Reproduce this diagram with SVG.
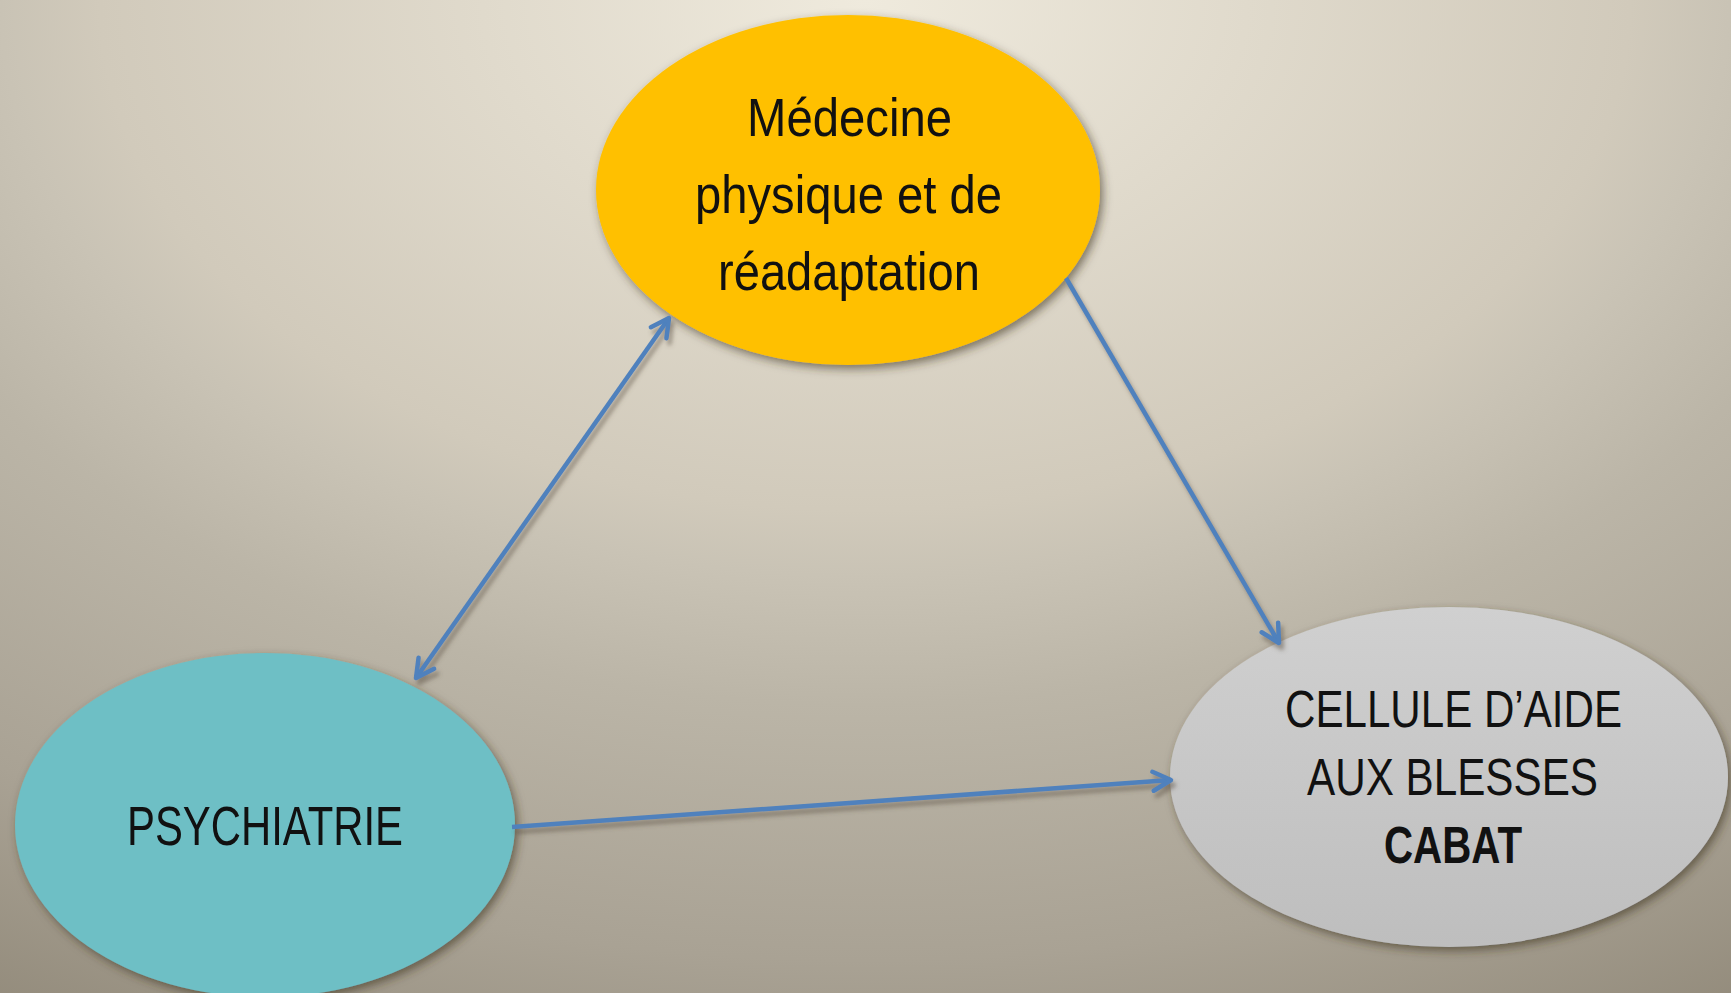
<svg xmlns="http://www.w3.org/2000/svg" width="1731" height="993" viewBox="0 0 1731 993">
  <defs>
    <radialGradient id="bg" gradientUnits="userSpaceOnUse" cx="865" cy="0" r="1200" gradientTransform="translate(865 0) scale(1.5 1) translate(-865 0)">
      <stop offset="0" stop-color="#EFEADD"/>
      <stop offset="0.425" stop-color="#D1CABB"/>
      <stop offset="0.48" stop-color="#C9C3B5"/>
      <stop offset="0.587" stop-color="#BBB5A7"/>
      <stop offset="0.8" stop-color="#A9A294"/>
      <stop offset="1" stop-color="#8F8777"/>
    </radialGradient>
    <linearGradient id="grayFill" x1="0" y1="0" x2="0" y2="1">
      <stop offset="0" stop-color="#D0D0D0"/>
      <stop offset="1" stop-color="#BEBEBE"/>
    </linearGradient>
    <filter id="nodeShadow" x="-20%" y="-20%" width="140%" height="140%">
      <feDropShadow dx="3" dy="4" stdDeviation="5" flood-color="#3A3020" flood-opacity="0.6"/>
    </filter>
    <filter id="lineShadow" x="-20%" y="-20%" width="140%" height="140%">
      <feDropShadow dx="3" dy="5" stdDeviation="2" flood-color="#5A5040" flood-opacity="0.5"/>
    </filter>
    <marker id="ah" markerUnits="userSpaceOnUse" orient="auto-start-reverse" refX="0" refY="0" markerWidth="40" markerHeight="40" viewBox="-25 -20 40 40" overflow="visible">
      <path d="M-18,-9.5 L0,0 L-18,9.5" fill="none" stroke="#4F81BD" stroke-width="4.5" stroke-linecap="round" stroke-linejoin="round"/>
    </marker>
    <style>
      .lbl { font-family: "Liberation Sans", Arial, sans-serif; fill: #111111; }
      .conn { stroke: #4F81BD; stroke-width: 4.5; fill: none; }
    </style>
  </defs>

  <rect x="0" y="0" width="1731" height="993" fill="url(#bg)"/>

  <g id="node-medecine">
    <ellipse cx="848" cy="190" rx="252" ry="175" fill="#FFC000" filter="url(#nodeShadow)"/>
    <text class="lbl" x="747" y="136" font-size="53" textLength="205" lengthAdjust="spacingAndGlyphs">Médecine</text>
    <text class="lbl" x="695" y="213" font-size="53" textLength="307" lengthAdjust="spacingAndGlyphs">physique et de</text>
    <text class="lbl" x="718" y="290" font-size="53" textLength="262" lengthAdjust="spacingAndGlyphs">réadaptation</text>
  </g>

  <g id="node-psychiatrie">
    <ellipse cx="265" cy="825" rx="250" ry="172" fill="#6EBFC5" filter="url(#nodeShadow)"/>
    <text class="lbl" x="127" y="845" font-size="56" textLength="276" lengthAdjust="spacingAndGlyphs">PSYCHIATRIE</text>
  </g>

  <g id="node-cabat">
    <ellipse cx="1449" cy="777" rx="279" ry="170" fill="url(#grayFill)" filter="url(#nodeShadow)"/>
    <text class="lbl" x="1285" y="727" font-size="51" textLength="337" lengthAdjust="spacingAndGlyphs">CELLULE D’AIDE</text>
    <text class="lbl" x="1307" y="795" font-size="51" textLength="291" lengthAdjust="spacingAndGlyphs">AUX BLESSES</text>
    <text class="lbl" x="1384" y="863" font-size="51" font-weight="bold" textLength="138" lengthAdjust="spacingAndGlyphs">CABAT</text>
  </g>

  <g id="connectors" filter="url(#lineShadow)">
    <line class="conn" x1="416" y1="678" x2="669" y2="318" marker-start="url(#ah)" marker-end="url(#ah)"/>
    <line class="conn" x1="1066" y1="278" x2="1279" y2="643" marker-end="url(#ah)"/>
    <line class="conn" x1="512" y1="827" x2="1171" y2="780" marker-end="url(#ah)"/>
  </g>
</svg>
